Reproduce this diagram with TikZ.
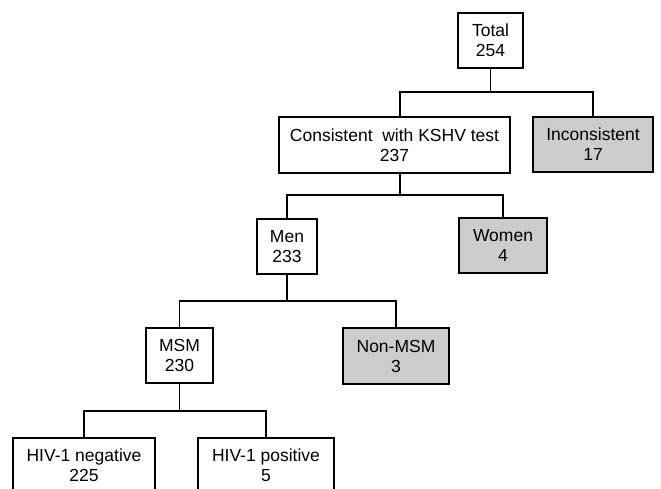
\documentclass[tikz,border=0pt]{standalone}
\usepackage{fontspec}
\setmainfont{Liberation Sans}
\begin{document}
\begin{tikzpicture}[x=1pt,y=-1pt,
  box/.style={draw=black, line width=1.1pt, rectangle, inner sep=0pt, align=center,
    font=\fontsize{17.5}{20}\selectfont, minimum height=55pt},
  shaded/.style={box, fill=black!20},
  thick box/.style={box, line width=2pt},
  link/.style={draw=black, line width=1.1pt}]
\useasboundingbox (0,0) rectangle (661,489);
\begin{scope}
\clip (0,0) rectangle (661,489);
\node[box, minimum width=65pt] (total) at (490.5,40.5) {Total\\254};
\node[shaded, minimum width=120pt] (incons) at (593,144.5) {Inconsistent\\17};
\node[box, minimum width=231pt, minimum height=56pt] (consist) at (394.5,145) {Consistent\ \ with KSHV test\\237};
\node[box, minimum width=60pt] (men) at (287,246.5) {Men\\233};
\node[shaded, minimum width=88pt] (women) at (503,245.5) {Women\\4};
\node[thick box, minimum width=67pt] (msm) at (179.5,355.5) {MSM\\230};
\node[shaded, minimum width=106pt, minimum height=56pt] (nonmsm) at (396,356) {Non-MSM\\3};
\node[box, minimum width=142pt] (hivneg) at (84,465.5) {HIV-1 negative\\225};
\node[box, minimum width=136pt] (hivpos) at (266,465.5) {HIV-1 positive\\5};

\coordinate (c1) at ([xshift=5.5pt]consist.north);
\coordinate (c2) at ([xshift=5.5pt]consist.south);
\coordinate (bus1) at (0,92);
\coordinate (bus2) at (0,195);
\coordinate (bus3) at (0,301);
\coordinate (bus4) at (0,411);

\draw[link] (total.south) -- (total.south |- bus1);
\draw[link] (c1) |- (incons.north |- bus1) -- (incons.north);
\draw[link] (c2) -- (c2 |- bus2);
\draw[link] (men.north) |- (women.north |- bus2) -- (women.north);
\draw[link] (men.south) -- (men.south |- bus3);
\draw[link] (msm.north) |- (nonmsm.north |- bus3) -- (nonmsm.north);
\draw[link] (msm.south) -- (msm.south |- bus4);
\draw[link] (hivneg.north) |- (hivpos.north |- bus4) -- (hivpos.north);
\end{scope}
\end{tikzpicture}
\end{document}
